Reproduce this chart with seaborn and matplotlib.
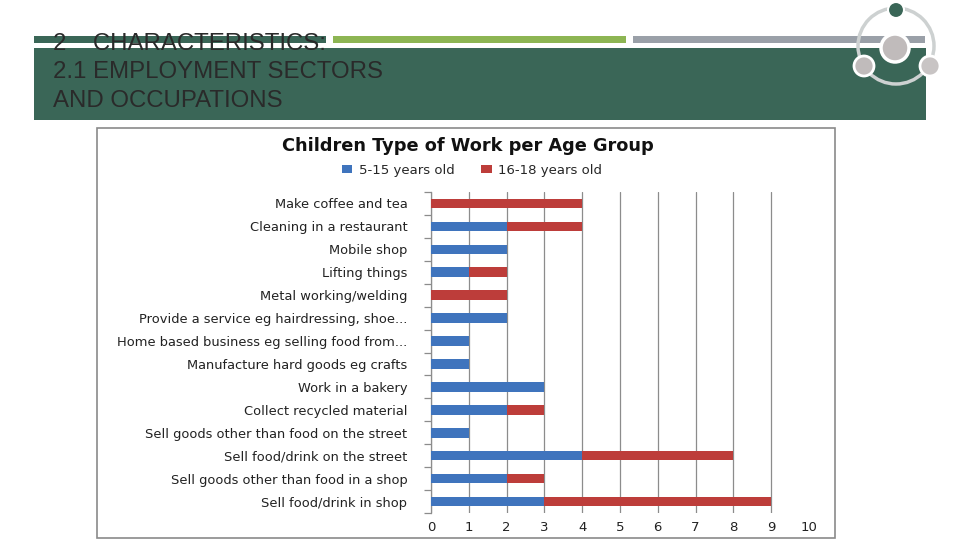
import matplotlib
matplotlib.use("Agg")
import matplotlib.pyplot as plt
import seaborn as sns
import pandas as pd
from matplotlib.patches import Rectangle, Circle
from matplotlib.ticker import FixedLocator

categories = [
    "Make coffee and tea",
    "Cleaning in a restaurant",
    "Mobile shop",
    "Lifting things",
    "Metal working/welding",
    "Provide a service eg hairdressing, shoe...",
    "Home based business eg selling food from...",
    "Manufacture hard goods eg crafts",
    "Work in a bakery",
    "Collect recycled material",
    "Sell goods other than food on the street",
    "Sell food/drink on the street",
    "Sell goods other than food in a shop",
    "Sell food/drink in shop",
]
age_5_15 = [0, 2, 2, 1, 0, 2, 1, 1, 3, 2, 1, 4, 2, 3]
age_16_18 = [4, 2, 0, 1, 2, 0, 0, 0, 0, 1, 0, 4, 1, 6]
series_names = ["5-15 years old", "16-18 years old"]
x_ticks = [0, 1, 2, 3, 4, 5, 6, 7, 8, 9, 10]

chart_title = "Children Type of Work per Age Group"
slide_title = "2    CHARACTERISTICS:\n2.1 EMPLOYMENT SECTORS\nAND OCCUPATIONS"

BLUE = "#3f74bd"
RED = "#bd3d3a"

df = pd.DataFrame({"cat": categories, "a": age_5_15, "b": age_16_18})
df["total"] = df["a"] + df["b"]

sns.set_theme(style="white")
plt.rcParams["font.family"] = ["DejaVu Sans"]

fig = plt.figure(figsize=(9.6, 5.4), dpi=100)

# background / decoration axes in pixel coordinates
bg = fig.add_axes([0, 0, 1, 1], zorder=0)
bg.set_xlim(0, 960)
bg.set_ylim(540, 0)
bg.axis("off")
bg.add_patch(Rectangle((34, 48), 892, 72, color="#3a6657", lw=0))
bg.add_patch(Rectangle((34, 36), 292, 7, color="#3a6657", lw=0))
bg.add_patch(Rectangle((333, 36), 293, 7, color="#8db553", lw=0))
bg.add_patch(Rectangle((633, 36), 292, 7, color="#9aa0a8", lw=0))
bg.text(53, 33, slide_title, ha="left", va="top", fontsize=17.3,
        family=["Liberation Sans", "DejaVu Sans"], color="#2a2a2a",
        linespacing=1.37)
# circle diagram
bg.add_patch(Circle((896, 46), 38, fill=False, ec="#cdd1d1", lw=2.5))
bg.add_patch(Circle((896, 10), 8, fc="#3a6657", ec="white", lw=1.5))
bg.add_patch(Circle((895, 48), 14, fc="#c0bbbb", ec="white", lw=2.5))
bg.add_patch(Circle((864, 66), 10, fc="#c0bbbb", ec="white", lw=2))
bg.add_patch(Circle((930, 66), 10, fc="#c8c4c4", ec="white", lw=2))
# chart frame
bg.add_patch(Rectangle((97, 128), 738, 410, fc="white", ec="#8a8a8a", lw=1.2))
bg.text(468, 146, chart_title, ha="center", va="center", fontsize=12.8,
        fontweight="bold", color="#111111")

# chart axes
ax = fig.add_axes([431 / 960, 1 - 513 / 540, (809 - 431) / 960, (513 - 192) / 540], zorder=2)
ax.set_facecolor("none")
sns.barplot(data=df, y="cat", x="total", color=RED, orient="h", width=0.42,
            saturation=1, ax=ax, label=series_names[1], zorder=3, linewidth=0)
sns.barplot(data=df, y="cat", x="a", color=BLUE, orient="h", width=0.42,
            saturation=1, ax=ax, label=series_names[0], zorder=4, linewidth=0)
ax.set_xlim(x_ticks[0], x_ticks[-1])
ax.set_ylim(len(categories) - 0.5, -0.5)
ax.set_xticks(x_ticks)
ax.set_xticklabels([str(t) for t in x_ticks], fontsize=9.5, color="#222222")
ax.set_yticks(range(len(categories)))
ax.set_yticklabels(categories, fontsize=9.4, color="#222222")
ax.set_xlabel("")
ax.set_ylabel("")
ax.grid(axis="x", color="#8c8c8c", lw=0.9, zorder=0)
ax.set_axisbelow(True)
gl = ax.get_xgridlines()
gl[-1].set_visible(False)
for s in ["top", "right", "bottom"]:
    ax.spines[s].set_visible(False)
ax.spines["left"].set_color("#8c8c8c")
ax.spines["left"].set_linewidth(0.9)
ax.tick_params(axis="y", which="major", length=0, pad=17)
ax.tick_params(axis="x", which="major", length=0, pad=6)
ax.yaxis.set_minor_locator(FixedLocator([i - 0.5 for i in range(len(categories) + 1)]))
ax.tick_params(axis="y", which="minor", length=5, width=0.9, color="#8c8c8c", left=True)
if ax.get_legend() is not None:
    ax.get_legend().remove()

handles, labels = ax.get_legend_handles_labels()
order = [labels.index(series_names[0]), labels.index(series_names[1])]
fig.legend([handles[i] for i in order], [labels[i] for i in order],
           loc="center", bbox_to_anchor=(472 / 960, 1 - 170 / 540), ncol=2,
           frameon=False, fontsize=9.5, handlelength=0.8, handleheight=0.6,
           columnspacing=2.0, handletextpad=0.5)

fig.savefig("out.png", dpi=100)
